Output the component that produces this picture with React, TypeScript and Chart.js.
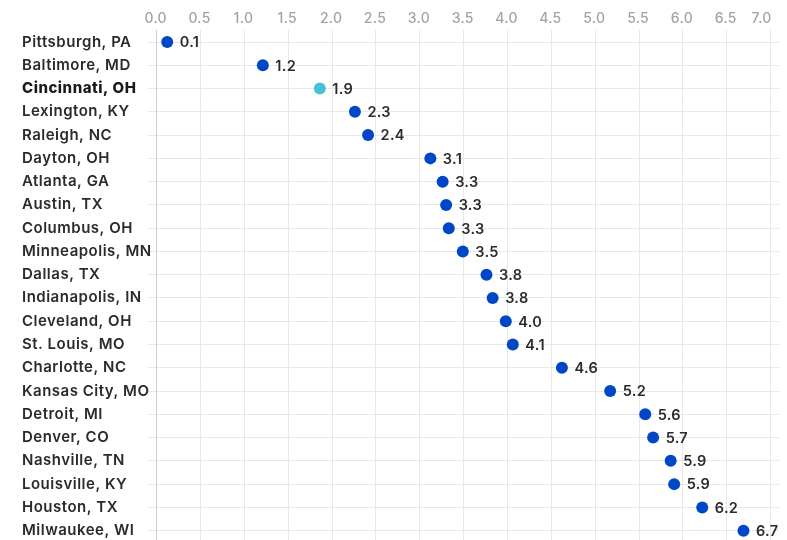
import { useEffect, useRef } from 'react';
import { Chart, registerables } from 'chart.js';

Chart.register(...registerables);

const cities = [
  'Pittsburgh, PA', 'Baltimore, MD', 'Cincinnati, OH', 'Lexington, KY', 'Raleigh, NC',
  'Dayton, OH', 'Atlanta, GA', 'Austin, TX', 'Columbus, OH', 'Minneapolis, MN',
  'Dallas, TX', 'Indianapolis, IN', 'Cleveland, OH', 'St. Louis, MO', 'Charlotte, NC',
  'Kansas City, MO', 'Detroit, MI', 'Denver, CO', 'Nashville, TN', 'Louisville, KY',
  'Houston, TX', 'Milwaukee, WI',
];
const values = [
  0.12, 1.21, 1.86, 2.26, 2.41,
  3.12, 3.26, 3.3, 3.33, 3.49,
  3.76, 3.83, 3.98, 4.06, 4.62,
  5.17, 5.57, 5.66, 5.86, 5.9,
  6.22, 6.69,
];
const xTickValues = [0, 0.5, 1, 1.5, 2, 2.5, 3, 3.5, 4, 4.5, 5, 5.5, 6, 6.5, 7];
const highlightCity = 'Cincinnati, OH';

const FONT = 'Inter, "Noto Sans", sans-serif';
const BLUE = '#0047c8';
const CYAN = '#47c2d4';

export default function App() {
  const ref = useRef<HTMLCanvasElement>(null);

  useEffect(() => {
    if (!ref.current) return;
    const colors = cities.map((c) => (c === highlightCity ? CYAN : BLUE));

    const spacing = {
      id: 'spacing',
      beforeDraw(chart: any) {
        chart.ctx.letterSpacing = '0.5px';
      },
      afterDraw(chart: any) {
        chart.ctx.letterSpacing = '0px';
      },
    };

    const valueLabels = {
      id: 'valueLabels',
      afterDatasetsDraw(chart: any) {
        const ctx = chart.ctx;
        const meta = chart.getDatasetMeta(0);
        ctx.save();
        ctx.letterSpacing = '0.3px';
        ctx.font = `600 14.5px ${FONT}`;
        ctx.fillStyle = '#2b2b2b';
        ctx.textAlign = 'left';
        ctx.textBaseline = 'middle';
        meta.data.forEach((pt: any, i: number) => {
          ctx.fillText(values[i].toFixed(1), pt.x + 12.5, pt.y + 1);
        });
        ctx.restore();
      },
    };

    const xLabels = {
      id: 'xLabels',
      afterDraw(chart: any) {
        const ctx = chart.ctx;
        const sx = chart.scales.x;
        ctx.save();
        ctx.letterSpacing = '0.3px';
        ctx.font = `500 14px ${FONT}`;
        ctx.fillStyle = '#a3a3a3';
        ctx.textBaseline = 'middle';
        xTickValues.forEach((v, i) => {
          const px = sx.getPixelForValue(v);
          const last = i === xTickValues.length - 1;
          ctx.textAlign = last ? 'right' : 'center';
          ctx.fillText(v.toFixed(1), last ? px + 1 : px - 1, 10.5);
        });
        ctx.restore();
      },
    };

    const chart = new Chart(ref.current, {
      type: 'line',
      data: {
        labels: cities,
        datasets: [
          {
            data: values,
            showLine: false,
            borderWidth: 0,
            pointRadius: 6,
            pointHoverRadius: 6,
            pointBorderWidth: 0,
            pointBackgroundColor: colors,
            borderColor: colors,
          },
        ],
      },
      options: {
        indexAxis: 'y',
        animation: false,
        responsive: true,
        maintainAspectRatio: false,
        events: [],
        layout: { autoPadding: false, padding: { left: 14, top: 22.4, right: 0, bottom: 5.7 } },
        plugins: { legend: { display: false }, tooltip: { enabled: false } },
        scales: {
          x: {
            type: 'linear',
            position: 'top',
            min: 0,
            max: 7.095,
            ticks: { display: false, stepSize: 0.5, includeBounds: false },
            grid: { color: '#e8e8e8', drawTicks: false },
            border: { display: false },
            afterFit: (s: any) => {
              s.paddingLeft = 0;
              s.paddingRight = 0;
            },
          },
          y: {
            type: 'category',
            offset: true,
            ticks: {
              crossAlign: 'far',
              color: (c: any) => (cities[c.index] === highlightCity ? '#1a1a1a' : '#2b2b2b'),
              font: (c: any) => ({
                family: FONT,
                size: 15,
                weight: cities[c.index] === highlightCity ? '800' : '600',
              }),
            },
            grid: { color: '#e8e8e8', tickLength: 8.5, offset: false },
            border: { color: '#cccccc' },
            afterFit: (s: any) => {
              s.width = 134.7;
              s.paddingTop = 0;
              s.paddingBottom = 0;
            },
          },
        },
      },
      plugins: [spacing, valueLabels, xLabels],
    } as any);

    return () => chart.destroy();
  }, []);

  return (
    <div style={{ position: 'fixed', left: 8, top: 8, width: 771, height: 540 }}>
      <canvas ref={ref} />
    </div>
  );
}
